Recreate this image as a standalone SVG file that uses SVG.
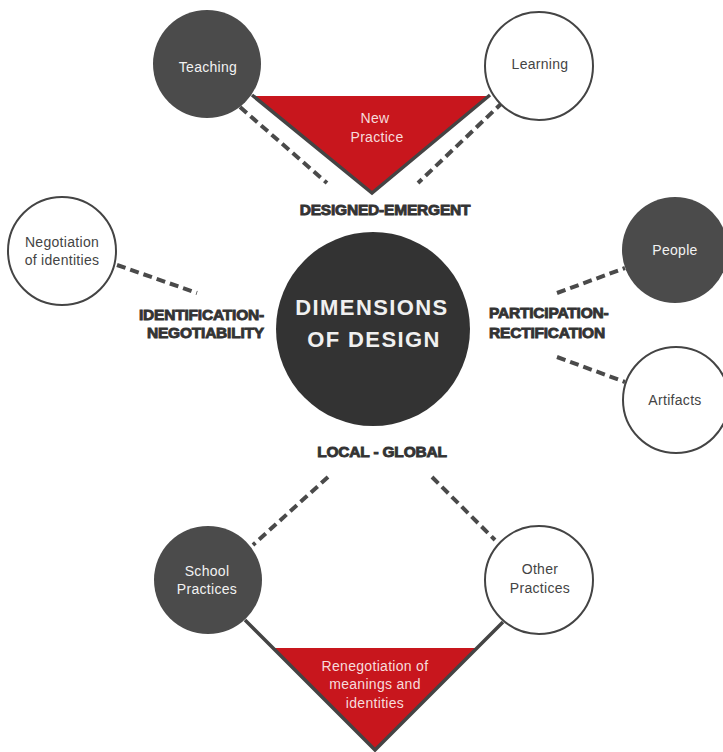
<svg xmlns="http://www.w3.org/2000/svg" width="723" height="752" viewBox="0 0 723 752">
<style>
.dark{fill:#4b4b4b;}
.light{fill:#ffffff;stroke:#444444;stroke-width:2;}
.core{fill:#333333;}
.t{font-family:"Liberation Sans",Arial,sans-serif;font-size:14px;text-anchor:middle;letter-spacing:0.3px;}
.tw{fill:#f2f2f2;}
.td{fill:#444444;}
.tr{fill:#f6dcdc;}
.lab{font-family:"Liberation Sans",Arial,sans-serif;font-size:15.5px;font-weight:bold;fill:#333333;stroke:#333333;stroke-width:0.9;letter-spacing:-0.2px;}
.dash{stroke:#4a4a4a;stroke-width:4;stroke-dasharray:9 5;fill:none;}
.solid{stroke:#444444;stroke-width:3.5;fill:none;stroke-linejoin:miter;}
.tri{fill:#c8161d;}
.big{font-family:"Liberation Sans",Arial,sans-serif;font-size:22px;font-weight:bold;fill:#f0f0f0;text-anchor:middle;letter-spacing:1.4px;}
</style>
<rect width="723" height="752" fill="#ffffff"/>
<g id="triangle-top">
<polygon class="tri" points="252,96 490,96 372,193"/>
<text class="t tr" x="375" y="123">New</text>
<text class="t tr" x="377" y="142">Practice</text>
</g>
<g id="triangle-bottom">
<polygon class="tri" points="273,648 477,648 375,750"/>
<text class="t tr" x="375" y="671">Renegotiation of</text>
<text class="t tr" x="375" y="689">meanings and</text>
<text class="t tr" x="375" y="708">identities</text>
</g>
<g id="connectors">
<polyline class="solid" points="252,95 372,193 490,95"/>
<polyline class="solid" points="245,620 375,750 503,622"/>
<line class="dash" x1="240" y1="107" x2="327" y2="183"/>
<line class="dash" x1="503" y1="102" x2="418" y2="183"/>
<line class="dash" x1="117" y1="265" x2="197" y2="293"/>
<line class="dash" x1="557" y1="293" x2="625" y2="268"/>
<line class="dash" x1="557" y1="357" x2="625" y2="382"/>
<line class="dash" x1="328" y1="477" x2="253" y2="545"/>
<line class="dash" x1="432" y1="477" x2="495" y2="540"/>
</g>
<g id="teaching">
<circle class="dark" cx="207" cy="64" r="54"/>
<text class="t tw" x="208" y="72">Teaching</text>
</g>
<g id="learning">
<circle class="light" cx="539" cy="66" r="54"/>
<text class="t td" x="540" y="69">Learning</text>
</g>
<g id="negotiation">
<circle class="light" cx="62" cy="251" r="54"/>
<text class="t td" x="62" y="247">Negotiation</text>
<text class="t td" x="62" y="265">of identities</text>
</g>
<g id="people">
<circle class="dark" cx="675" cy="250" r="53"/>
<text class="t tw" x="675" y="255">People</text>
</g>
<g id="artifacts">
<circle class="light" cx="676" cy="400" r="53"/>
<text class="t td" x="675" y="405">Artifacts</text>
</g>
<g id="school">
<circle class="dark" cx="208" cy="580" r="54"/>
<text class="t tw" x="207" y="576">School</text>
<text class="t tw" x="207" y="594">Practices</text>
</g>
<g id="other">
<circle class="light" cx="539" cy="580" r="54"/>
<text class="t td" x="540" y="574">Other</text>
<text class="t td" x="540" y="593">Practices</text>
</g>
<g id="center">
<circle class="core" cx="373" cy="329" r="97"/>
<text class="big" x="372" y="315">DIMENSIONS</text>
<text class="big" x="374" y="347">OF DESIGN</text>
</g>
<g id="labels">
<text class="lab" x="385" y="215" text-anchor="middle">DESIGNED-EMERGENT</text>
<text class="lab" x="264" y="320" text-anchor="end">IDENTIFICATION-</text>
<text class="lab" x="264" y="338" text-anchor="end">NEGOTIABILITY</text>
<text class="lab" x="489" y="318">PARTICIPATION-</text>
<text class="lab" x="489" y="338">RECTIFICATION</text>
<text class="lab" x="382" y="457" text-anchor="middle">LOCAL - GLOBAL</text>
</g>
</svg>
